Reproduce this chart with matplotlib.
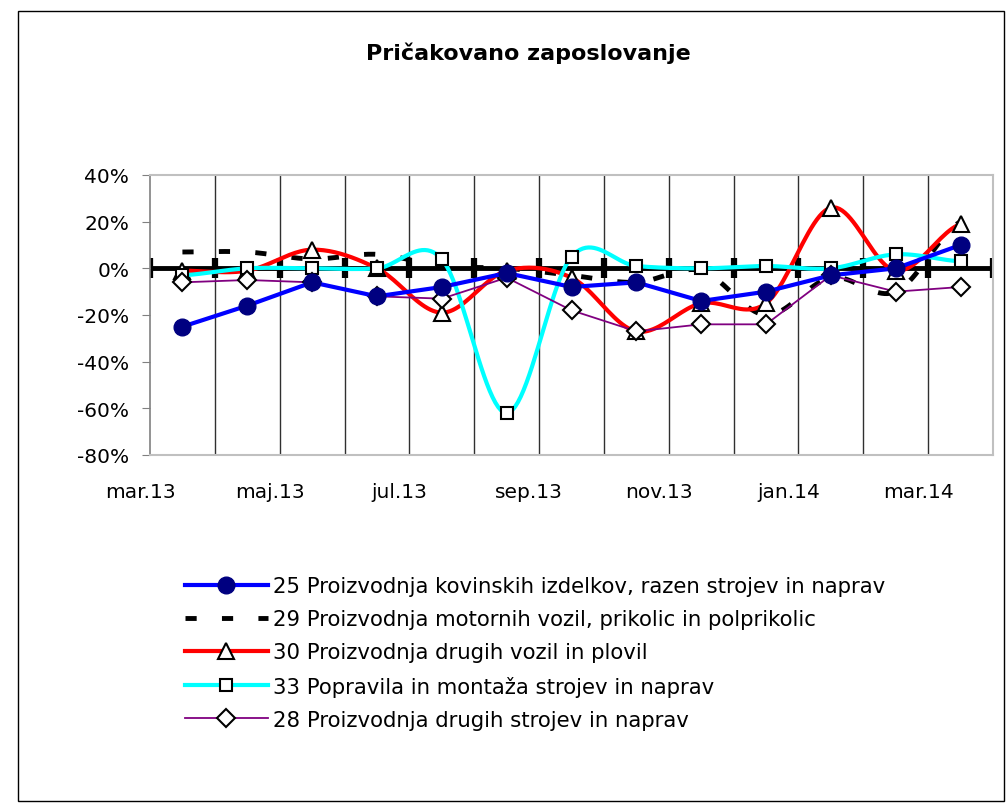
import numpy as np
import matplotlib
matplotlib.use("Agg")
import matplotlib.pyplot as plt
from matplotlib.lines import Line2D
from matplotlib.patches import Rectangle

# Podatki (v %), meseci mar.13 - mar.14
meseci = ['mar.13', 'apr.13', 'maj.13', 'jun.13', 'jul.13', 'avg.13', 'sep.13',
          'okt.13', 'nov.13', 'dec.13', 'jan.14', 'feb.14', 'mar.14']
oznake = ['mar.13', 'maj.13', 'jul.13', 'sep.13', 'nov.13', 'jan.14', 'mar.14']

s25 = [-25, -16, -6, -12, -8, -2, -8, -6, -14, -10, -3, 0, 10]
s29 = [7, 7, 4, 6, 1, 0, -3, -6, -1, -20, -4, -10, 20]
s30 = [-1, -1, 8, 0, -19, -1, -4, -27, -15, -15, 26, -1, 19]
s33 = [-3, 0, 0, 0, 4, -62, 5, 1, 0, 1, 0, 6, 3]
s28 = [-6, -5, -6, -12, -13, -4, -18, -27, -24, -24, -3, -10, -8]

imena = ['25 Proizvodnja kovinskih izdelkov, razen strojev in naprav',
         '29 Proizvodnja motornih vozil, prikolic in polprikolic',
         '30 Proizvodnja drugih vozil in plovil',
         '33 Popravila in montaža strojev in naprav',
         '28 Proizvodnja drugih strojev in naprav']


def gladko(y, n=24):
    # glajenje kot v Excelu (Catmull-Rom / Bezier)
    y = np.asarray(y, float)
    p = np.r_[y[0], y, y[-1]]
    t = np.linspace(0, 1, n)
    xs, ys = [], []
    for i in range(len(y) - 1):
        p0, p1, p2, p3 = p[i], p[i + 1], p[i + 2], p[i + 3]
        b1 = p1 + (p2 - p0) / 6
        b2 = p2 - (p3 - p1) / 6
        yy = (1 - t)**3 * p1 + 3 * (1 - t)**2 * t * b1 + 3 * (1 - t) * t**2 * b2 + t**3 * p2
        xs.append(i + t)
        ys.append(yy)
    return np.concatenate(xs), np.concatenate(ys)


plt.rcParams['font.family'] = ['DejaVu Sans']

W, H = 1006, 804
fig = plt.figure(figsize=(W / 100, H / 100), dpi=100)
ax = fig.add_axes([150 / W, 1 - 456 / H, 843 / W, 280 / H])

x = np.arange(len(meseci))

# os pri 0
meje = np.arange(len(meseci) + 1) - 0.5
ax.axhline(0, color='black', lw=3.5, zorder=1.5)
ax.plot(meje, np.zeros_like(meje), ls='none', marker='|', ms=14, mew=4.5,
        color='black', zorder=1.5)

# 29 - crtkana
xg, yg = gladko(s29)
ax.plot(xg, yg, color='black', lw=3.5, dashes=(2.3, 5.2), zorder=3)

# 30 - rdeca
xg, yg = gladko(s30)
ax.plot(xg, yg, color='red', lw=3, zorder=4)
ax.plot(x, s30, ls='none', marker='^', ms=11, mfc='white', mec='black', mew=1.5, zorder=4)

# 33 - cyan
xg, yg = gladko(s33)
ax.plot(xg, yg, color='#00FFFF', lw=3, zorder=5)
ax.plot(x, s33, ls='none', marker='s', ms=8, mfc='white', mec='black', mew=1.5, zorder=5)

# 28 - vijolicna
ax.plot(x, s28, color='#800080', lw=1.3, marker='D', ms=9, mfc='white', mec='black',
        mew=1.5, zorder=6)

# 25 - modra
ax.plot(x, s25, color='blue', lw=3, marker='o', ms=12, mfc='#000080', mec='#000080', zorder=7)

for m in meje[1:-1]:
    ax.axvline(m, color='#303030', lw=1, zorder=1)

ax.set_yticks(np.arange(-80, 41, 20))
ax.set_yticklabels([f'{v}%' for v in range(-80, 41, 20)])
ax.set_xticks([])
ax.set_xlim(-0.5, len(meseci) - 0.5)
ax.set_ylim(-80, 40)
ax.tick_params(axis='y', length=6, color='#808080', labelsize=14.5, pad=9)

# oznake meseca (kot v Excelu zamaknjene)
for k, lab in enumerate(oznake):
    ax.text(2 * k - 0.65, -0.1286, lab, transform=ax.get_xaxis_transform(),
            ha='center', va='center', fontsize=14.5, clip_on=False)

for s in ['top', 'right', 'bottom']:
    ax.spines[s].set_color('#c0c0c0')
    ax.spines[s].set_linewidth(1.5)
ax.spines['left'].set_color('#808080')
ax.spines['left'].set_linewidth(1.2)

fig.text(528 / W, 1 - 53 / H, 'Pričakovano zaposlovanje', ha='center', va='center',
         fontsize=16, fontweight='bold')

rocaji = [
    Line2D([], [], color='blue', lw=3, marker='o', ms=12, mfc='#000080', mec='#000080'),
    Line2D([], [], color='black', lw=3.5, dashes=(2.3, 5.2)),
    Line2D([], [], color='red', lw=3, marker='^', ms=11, mfc='white', mec='black', mew=1.5),
    Line2D([], [], color='#00FFFF', lw=3, marker='s', ms=8, mfc='white', mec='black', mew=1.5),
    Line2D([], [], color='#800080', lw=1.3, marker='D', ms=9, mfc='white', mec='black', mew=1.5),
]
fig.legend(rocaji, imena, loc='upper left', bbox_to_anchor=(185 / W, 1 - 577 / H),
           frameon=False, fontsize=15.3, handlelength=3.9, handletextpad=0.25,
           labelspacing=0.62, borderpad=0, borderaxespad=0)

fig.patches.append(Rectangle((18 / W, 2 / H), 1 - 20 / W, 1 - 14 / H, transform=fig.transFigure,
                             fill=False, edgecolor='black', lw=1))

fig.savefig('out.png', dpi=100)
